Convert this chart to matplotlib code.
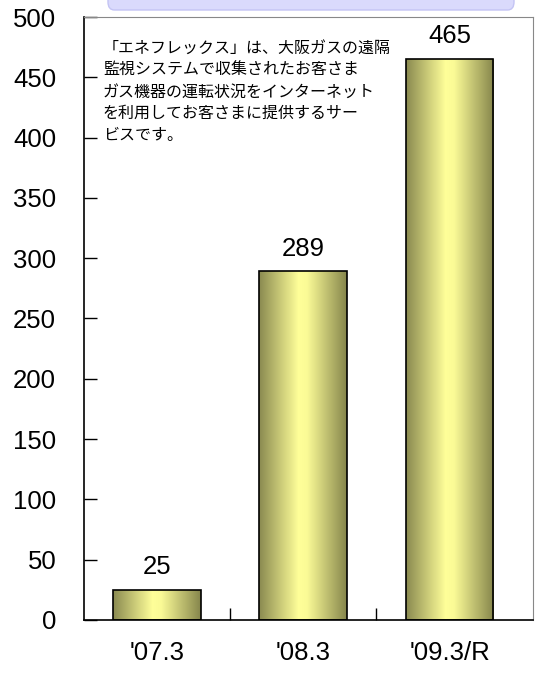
import numpy as np
import matplotlib.pyplot as plt
from matplotlib.patches import FancyBboxPatch
from matplotlib.colors import LinearSegmentedColormap

plt.rcParams['font.family'] = ['Liberation Sans', 'Noto Sans CJK JP', 'DejaVu Sans']

# 会員数の推移
categories = ["'07.3", "'08.3", "'09.3/R"]
values = [25, 289, 465]
y_ticks = [0, 50, 100, 150, 200, 250, 300, 350, 400, 450, 500]
note = ("「エネフレックス」は、大阪ガスの遠隔\n"
        "監視システムで収集されたお客さま\n"
        "ガス機器の運転状況をインターネット\n"
        "を利用してお客さまに提供するサー\n"
        "ビスです。")

fig = plt.figure(figsize=(5.35, 6.73), dpi=100, facecolor='white')
ax = fig.add_axes([0.157, 0.0788, 0.839, 0.8959])

# 棒のグラデーション（両端が暗いオリーブ、中央が淡い黄色）
bar_cmap = LinearSegmentedColormap.from_list(
    'olive', [(0.0, '#8a8a50'), (0.45, '#ffff99'), (0.55, '#fafa96'), (1.0, '#86864c')])
grad = np.linspace(0, 1, 256).reshape(1, -1)

x = np.arange(len(categories))
bars = ax.bar(x, values, width=0.6, color='none', edgecolor='black', linewidth=1.2, zorder=3)
for b in bars:
    x0, y0 = b.get_x(), b.get_y()
    w, h = b.get_width(), b.get_height()
    im = ax.imshow(grad, cmap=bar_cmap, aspect='auto', extent=(x0, x0 + w, y0, y0 + h),
                   interpolation='bicubic', zorder=2)
    im.set_clip_path(b)

for xi, v in zip(x, values):
    ax.text(xi, v + 9, str(v), ha='center', va='bottom', fontsize=18.5)

ax.set_xlim(-0.5, 2.57)
ax.set_ylim(0, 500)
ax.set_yticks(y_ticks)
ax.set_yticklabels([str(t) for t in y_ticks])
ax.set_xticks(x)
ax.set_xticklabels(categories)
ax.set_xticks([0.5, 1.5], minor=True)
ax.tick_params(axis='y', direction='in', length=9, width=1, pad=20, labelsize=18.5)
ax.tick_params(axis='x', which='major', length=0, pad=15, labelsize=18.5)
ax.tick_params(axis='x', which='minor', direction='in', length=9, width=1)

ax.spines['left'].set_color('black')
ax.spines['bottom'].set_color('black')
ax.spines['left'].set_linewidth(1.2)
ax.spines['bottom'].set_linewidth(1.2)
ax.spines['top'].set_color('#888888')
ax.spines['right'].set_color('#888888')

ax.text(0.042, 0.962, note, transform=ax.transAxes, ha='left', va='top',
        fontsize=11.5, linespacing=1.36, family=['Noto Sans CJK JP', 'DejaVu Sans'])

# 上部の見出し枠（上端が切れている）
W, H = 535, 673
head = FancyBboxPatch((108 / W, 1 - 10 / H), (514 - 108) / W, 30 / H,
                      boxstyle='round,pad=0,rounding_size=0.012',
                      transform=fig.transFigure, facecolor='#dadafc',
                      edgecolor='#c4c4f4', linewidth=1, clip_on=False)
fig.patches.append(head)

fig.savefig('out.png', dpi=100)
